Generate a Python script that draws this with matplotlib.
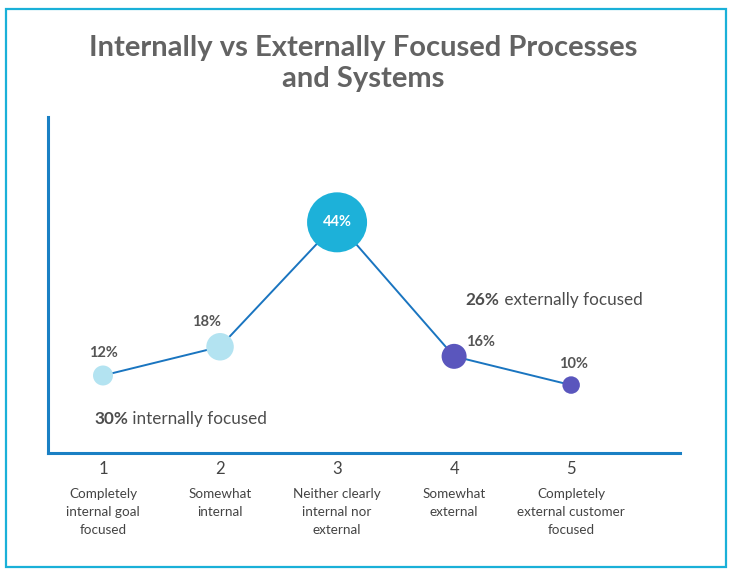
import matplotlib.pyplot as plt
from matplotlib.patches import Rectangle

# scale positions 1..5 and share of respondents (%)
scale = [1, 2, 3, 4, 5]
share = [12, 18, 44, 16, 10]
tick_labels = ["1", "2", "3", "4", "5"]
categories = ["Completely\ninternal goal\nfocused", "Somewhat\ninternal",
              "Neither clearly\ninternal nor\nexternal", "Somewhat\nexternal",
              "Completely\nexternal customer\nfocused"]
internal_total = "30%"
external_total = "26%"

point_colors = ["#b3e3f1", "#b3e3f1", "#1db1d9", "#5a56bd", "#5a56bd"]
# label offsets in pixels relative to each point
label_offsets = [(0, 22), (-14, 25), (0, 0), (26, 14), (2, 21)]

body = ["Lato", "DejaVu Sans"]
plt.rcParams["font.family"] = body

fig = plt.figure(figsize=(7.34, 5.72), dpi=100)
fig.patches.append(Rectangle((0.0082, 0.0087), 0.981, 0.9755, transform=fig.transFigure,
                             fill=False, edgecolor="#1ab0d8", linewidth=1.6))

fig.text(0.495, 0.889, "Internally vs Externally Focused Processes\nand Systems",
         ha="center", va="center", fontsize=21, color="#636363", fontweight="bold",
         linespacing=1.2)

ax = fig.add_axes([0.0654, 0.208, 0.861, 0.5874])
ax.set_xlim(0.53, 5.93)
ax.set_ylim(-4.2, 66)

ax.plot(scale, share, color="#1a75c0", linewidth=1.4, zorder=2)
sizes = [((1.25 * v + 5) * 0.72) ** 2 for v in share]
ax.scatter(scale, share, s=sizes, c=point_colors, zorder=3, linewidths=0)

for x, v, off in zip(scale, share, label_offsets):
    if v == max(share):
        ax.text(x, v, f"{v}%", ha="center", va="center", color="white",
                fontsize=10.5, fontweight="bold", zorder=4)
    else:
        ax.annotate(f"{v}%", (x, v), xytext=off, textcoords="offset pixels",
                    ha="center", va="center", color="#555555", fontsize=10.5,
                    fontweight="bold", zorder=4)

t1 = ax.text(0.923, 2.9, internal_total, ha="left", va="center", fontsize=12.3,
             fontweight="bold", color="#4d4d4d")
ax.annotate(" internally focused", xy=(1, 0.5), xycoords=t1, ha="left", va="center",
            fontsize=12.3, color="#4d4d4d")
t2 = ax.text(4.10, 27.8, external_total, ha="left", va="center", fontsize=12.3,
             fontweight="bold", color="#4d4d4d")
ax.annotate(" externally focused", xy=(1, 0.5), xycoords=t2, ha="left", va="center",
            fontsize=12.3, color="#4d4d4d")

ax.set_xticks(scale, labels=tick_labels)
ax.tick_params(axis="x", length=0, pad=6, labelsize=12, labelcolor="#444444")
ax.set_yticks([])
for x, cat in zip(scale, categories):
    ax.text(x, -0.103, cat, transform=ax.get_xaxis_transform(), ha="center", va="top",
            fontsize=9.7, color="#444444", linespacing=1.6)

for side in ["top", "right"]:
    ax.spines[side].set_visible(False)
for side in ["left", "bottom"]:
    ax.spines[side].set_color("#1a80c4")
    ax.spines[side].set_linewidth(2.2)

plt.savefig("out.png", dpi=100)
